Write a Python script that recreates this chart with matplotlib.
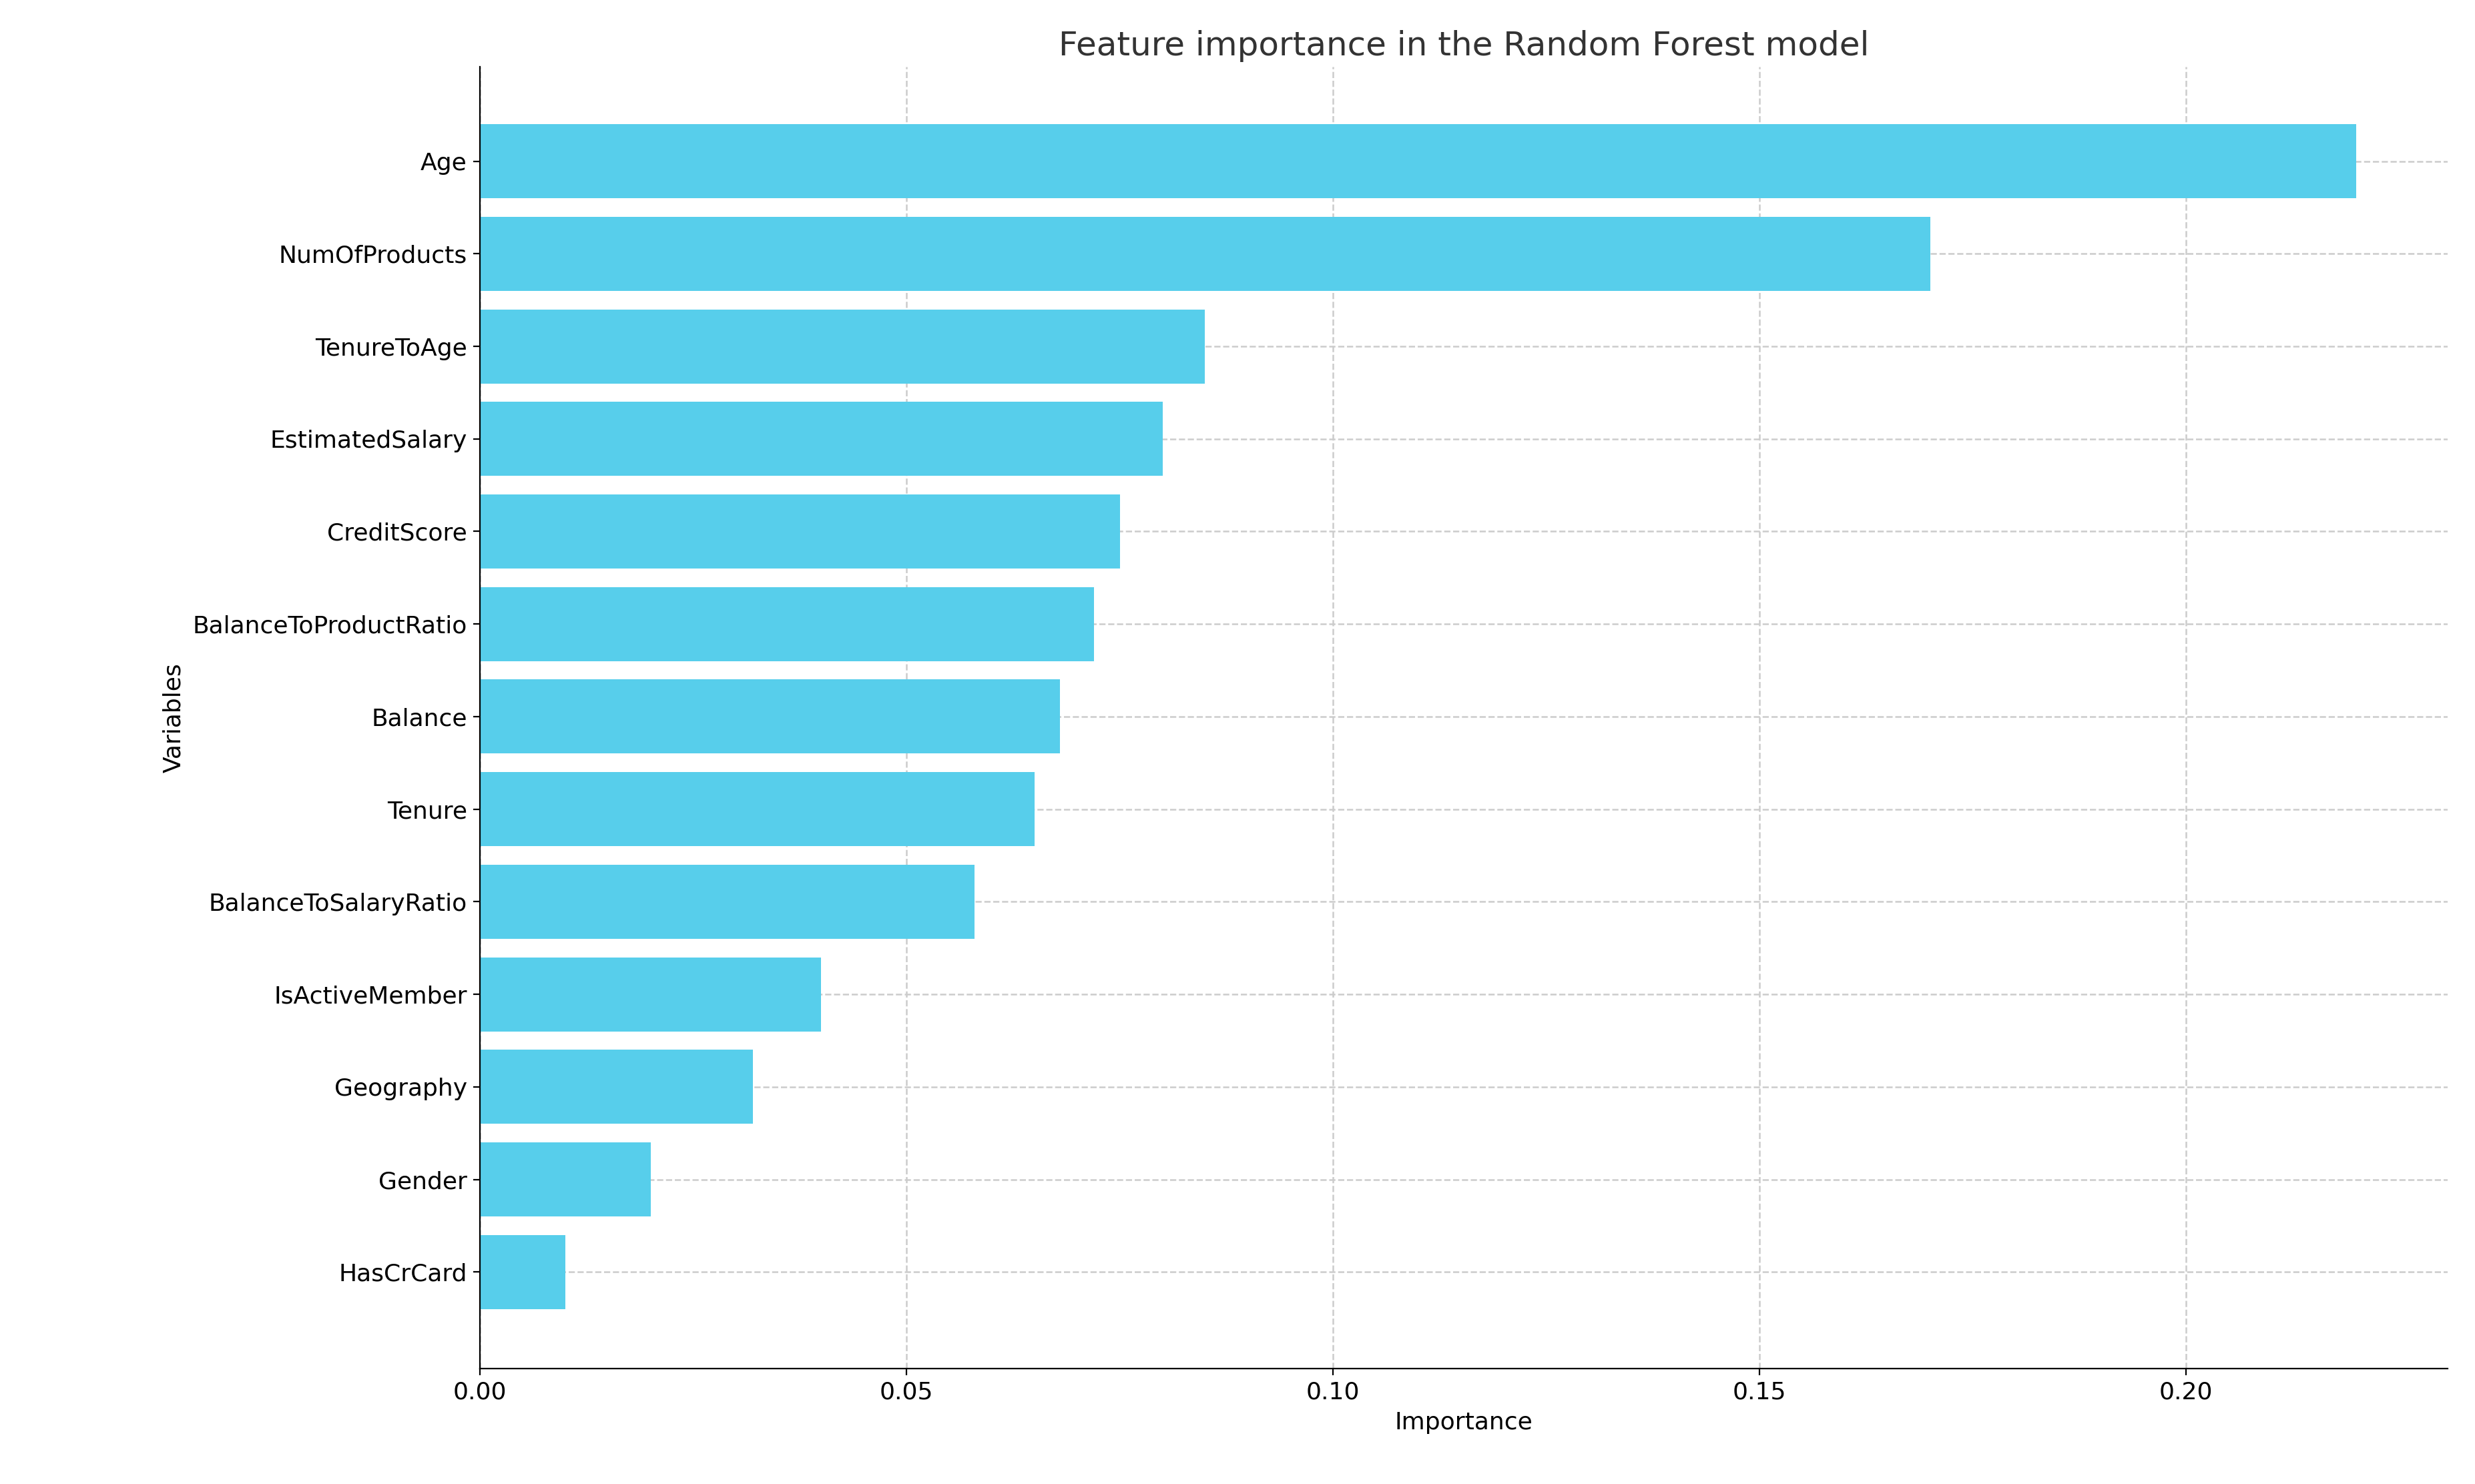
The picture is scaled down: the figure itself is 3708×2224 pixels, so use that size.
import numpy as np
import matplotlib.pyplot as plt

features = ['Age', 'NumOfProducts', 'TenureToAge', 'EstimatedSalary', 'CreditScore',
            'BalanceToProductRatio', 'Balance', 'Tenure', 'BalanceToSalaryRatio',
            'IsActiveMember', 'Geography', 'Gender', 'HasCrCard']
importance = [0.220, 0.170, 0.085, 0.080, 0.075, 0.072, 0.068, 0.065, 0.058,
              0.040, 0.032, 0.020, 0.010]

fig = plt.figure(figsize=(18.54, 11.12), dpi=200)
ax = fig.add_axes([0.194, 0.078, 0.795, 0.877])
y = np.arange(len(features))
ax.barh(y, importance, height=0.8, color='#57CEEB', zorder=2)
ax.set_yticks(y)
ax.set_yticklabels(features)
ax.set_ylim(len(features) - 1 + 1.04, -1.02)
ax.set_xlim(0, 0.2307)
ax.grid(True, linestyle='--', color='#cccccc', linewidth=0.9, zorder=0)
ax.set_axisbelow(True)
ax.spines['top'].set_visible(False)
ax.spines['right'].set_visible(False)
ax.tick_params(labelsize=13)
ax.set_xlabel('Importance', fontsize=13)
ax.set_ylabel('Variables', fontsize=13)
ax.set_title('Feature importance in the Random Forest model', fontsize=18, color='#333333')
fig.savefig('out.png', dpi=200)
